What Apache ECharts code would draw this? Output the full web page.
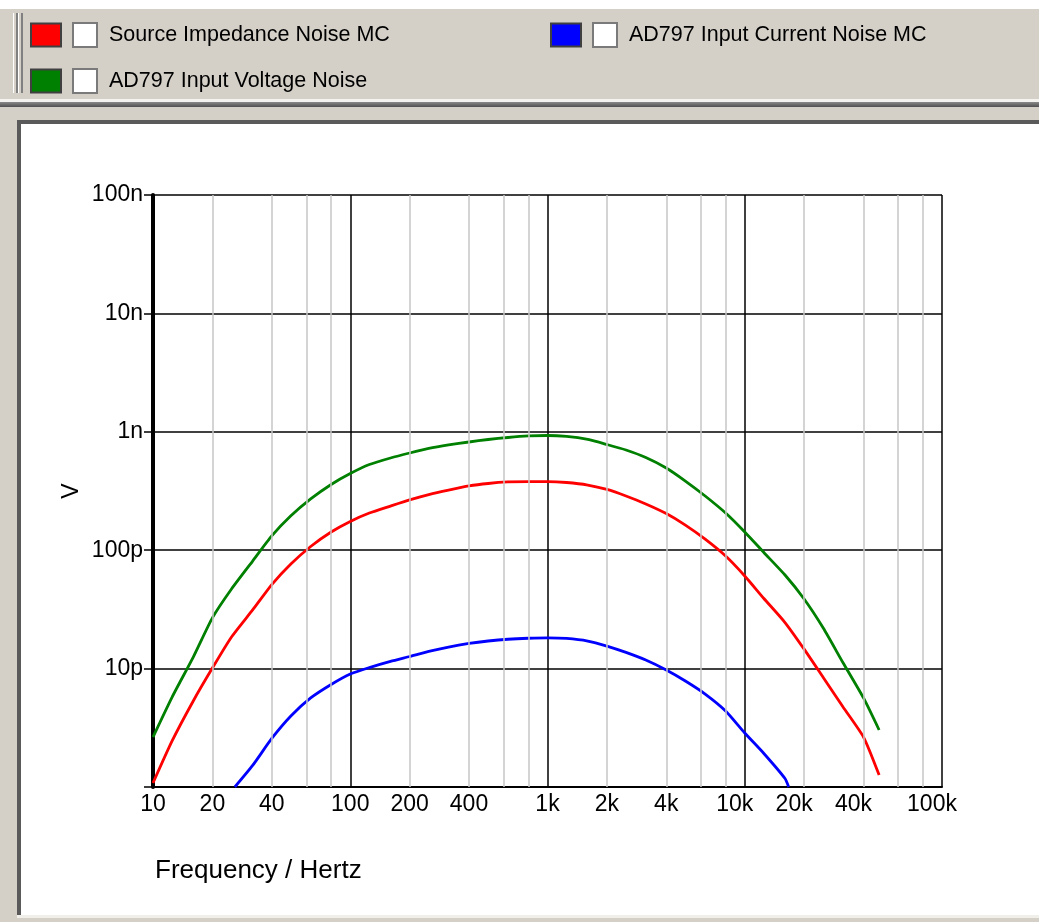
<!DOCTYPE html>
<html>
<head>
<meta charset="utf-8">
<title>AD797 noise contributions</title>
<script src="https://cdn.jsdelivr.net/npm/echarts@6.0.0/dist/echarts.min.js"></script>
<style>
  html, body { margin: 0; padding: 0; }
  body { width: 1039px; height: 922px; position: relative; overflow: hidden; background: #d4d0c8; font-family: "Liberation Sans", Arial, sans-serif; }
  .strip-top { position: absolute; left: 0; top: 0; width: 1039px; height: 9px; background: #ffffff; }
  .grip { position: absolute; top: 13px; height: 80px; width: 2px; border-left: 1px solid #ffffff; border-right: 2px solid #808080; }
  .sep-light { position: absolute; left: 0; top: 99px; width: 1039px; height: 3px; background: #f4f3ef; }
  .sep-dark { position: absolute; left: 0; top: 102px; width: 1039px; height: 5px; background: linear-gradient(#8a8a8a, #505050); }
  .panel { position: absolute; left: 17px; top: 120px; right: 0; height: 795px; background: #ffffff;
           border-left: 4px solid #5a5a5a; border-top: 4px solid #5a5a5a; box-sizing: border-box; }
  .panel-foot { position: absolute; left: 17px; top: 915px; right: 0; height: 3px; background: #f1efea; }
  #chart { position: absolute; left: 0; top: 0; width: 1039px; height: 922px; }
</style>
</head>
<body>
<div class="strip-top"></div>
<div class="grip" style="left:13px"></div>
<div class="grip" style="left:18px"></div>
<div class="sep-light"></div>
<div class="sep-dark"></div>
<div class="panel"></div>
<div class="panel-foot"></div>
<div id="chart"></div>
<script>
// Third-octave frequency points (Hz) for the source-impedance and voltage-noise traces
const freqHz = [10, 12.5, 16, 20, 25, 32, 40, 50, 63, 80,
  100, 125, 160, 200, 250, 315, 400, 500, 630, 800,
  1000, 1250, 1600, 2000, 2500, 3150, 4000, 5000, 6300, 8000,
  10000, 12500, 16000, 20000, 25000, 31500, 40000, 48000];

// Noise voltages in picovolts
const sourceImpedancePV = [1.08, 2.45, 5.33, 10.1, 18.5, 31.3, 51.3, 76.5, 107.5, 142.5,
  175, 206, 236, 266, 295, 322, 349, 366, 377, 380,
  380, 373, 355, 326, 287, 246, 204, 163, 124, 89.3,
  60.6, 39.1, 24.5, 14.6, 8.41, 4.74, 2.64, 1.26];
const inputVoltagePV = [2.64, 5.75, 12.5, 26.8, 47.0, 81.0, 132, 195, 271, 359,
  444, 529, 601, 662, 723, 774, 820, 861, 895, 922,
  931, 913, 861, 781, 702, 607, 495, 384, 287, 206,
  142.5, 95.6, 61.7, 38.7, 22.0, 11.2, 5.65, 3.03];

// The current-noise trace spans a narrower band
const currentNoiseHz = [26, 32, 40, 50, 63, 80, 100, 125, 160, 200, 250, 315, 400, 500, 630, 800,
  1000, 1250, 1600, 2000, 2500, 3150, 4000, 5000, 6300, 8000, 10000, 12500, 16000, 16700];
const inputCurrentPV = [1.0, 1.52, 2.57, 3.98, 5.65, 7.34, 9.0, 10.2, 11.5, 12.65, 13.95, 15.2, 16.3, 17.1, 17.7, 18.05,
  18.2, 18.0, 17.1, 15.5, 13.7, 11.8, 9.73, 7.86, 6.10, 4.39, 2.86, 1.92, 1.18, 1.0];

const seriesNames = ['Source Impedance Noise MC', 'AD797 Input Current Noise MC', 'AD797 Input Voltage Noise'];
const seriesColors = ['#ff0000', '#0000ff', '#008000'];

// Axis ticks
const xTickValues = [10, 20, 40, 100, 200, 400, 1000, 2000, 4000, 10000, 20000, 40000, 100000];
const xTickText = ['10', '20', '40', '100', '200', '400', '1k', '2k', '4k', '10k', '20k', '40k', '100k'];
const yTickExp = [-12, -11, -10, -9, -8, -7];
const yTickText = ['', '10p', '100p', '1n', '10n', '100n'];

// Light grid lines between the decades
const xMinorGrid = [20, 40, 60, 80, 200, 400, 600, 800, 2000, 4000, 6000, 8000, 20000, 40000, 60000, 80000];
const yMinorGrid = [5e-12, 5e-11, 5e-10, 5e-9, 5e-8];

const FONT = '"Liberation Sans", Arial, sans-serif';
const toPairs = (hz, pv) => hz.map((f, i) => [f, pv[i] * 1e-12]);

const chart = echarts.init(document.getElementById('chart'), null, { renderer: 'canvas' });

function legendAt(name, left, top) {
  return {
    data: [name],
    left: left,
    top: top,
    padding: 0,
    orient: 'horizontal',
    selectedMode: false,
    icon: 'rect',
    itemWidth: 30,
    itemHeight: 23,
    itemStyle: { borderColor: '#404040', borderWidth: 2 },
    formatter: n => '{sp| }{cb| }{t|' + n + '}',
    textStyle: {
      fontFamily: FONT,
      rich: {
        sp: { width: 8 },
        cb: { width: 22, height: 22, backgroundColor: '#ffffff', borderColor: '#7a7a7a', borderWidth: 2 },
        t: { fontSize: 21.5, color: '#000', fontFamily: FONT, padding: [0, 0, 0, 13] }
      }
    }
  };
}

function traceSeries(idx, data) {
  return {
    name: seriesNames[idx],
    type: 'line',
    z: 3,
    data: data,
    color: seriesColors[idx],
    symbol: 'none',
    smooth: 0.2,
    lineStyle: { width: 2.8, color: seriesColors[idx] }
  };
}

const option = {
  animation: false,
  textStyle: { fontFamily: FONT },
  legend: [
    legendAt(seriesNames[0], 30, 22),
    legendAt(seriesNames[1], 550, 22),
    legendAt(seriesNames[2], 30, 68)
  ],
  grid: { left: 153, top: 195, width: 789, height: 592, containLabel: false },
  xAxis: {
    type: 'log',
    logBase: 10,
    min: 10,
    max: 100000,
    name: 'Frequency / Hertz',
    nameLocation: 'start',
    nameGap: 0,
    nameMoveOverlap: false,
    nameTextStyle: { fontSize: 26, color: '#000', fontFamily: FONT, align: 'left', verticalAlign: 'top', padding: [71, 0, 0, 2] },
    axisLine: { show: true, onZero: false, lineStyle: { color: '#000', width: 2 } },
    axisTick: { show: false },
    axisLabel: {
      customValues: xTickValues,
      margin: 6,
      color: '#000',
      fontSize: 23,
      fontFamily: FONT,
      formatter: v => {
        let best = 0;
        xTickValues.forEach((t, i) => { if (Math.abs(Math.log10(t) - Math.log10(v)) < Math.abs(Math.log10(xTickValues[best]) - Math.log10(v))) best = i; });
        const s = xTickText[best];
        return v >= 9999 ? '{k|' + s + '}' : '{n|' + s + '}';
      },
      rich: {
        n: { fontSize: 23, color: '#000', fontFamily: FONT },
        k: { fontSize: 23, color: '#000', fontFamily: FONT, padding: [0, 20, 0, 0] }
      }
    },
    splitLine: { show: true, lineStyle: { color: '#000', width: 1.5 } }
  },
  yAxis: {
    type: 'log',
    logBase: 10,
    min: 1e-12,
    max: 1e-7,
    name: 'V',
    nameLocation: 'middle',
    nameGap: 70,
    nameMoveOverlap: false,
    nameTextStyle: { fontSize: 23, color: '#000', fontFamily: FONT },
    axisLine: { show: true, onZero: false, lineStyle: { color: '#000', width: 4 } },
    axisTick: { show: true, length: 9, lineStyle: { color: '#000', width: 1.5 } },
    axisLabel: {
      margin: 10,
      color: '#000',
      fontSize: 23,
      fontFamily: FONT,
      formatter: v => {
        const e = Math.round(Math.log10(v));
        const i = yTickExp.indexOf(e);
        return i >= 0 ? yTickText[i] : '';
      }
    },
    splitLine: { show: true, lineStyle: { color: '#000', width: 1.5 } }
  },
  series: [
    {
      name: 'minor-grid',
      type: 'line',
      z: 1,
      silent: true,
      data: [[10, 1e-12]],
      symbol: 'none',
      lineStyle: { opacity: 0 },
      markLine: {
        silent: true,
        symbol: ['none', 'none'],
        label: { show: false },
        animation: false,
        lineStyle: { color: '#c6c6c6', width: 1.5, type: 'solid' },
        data: xMinorGrid.map(x => ({ xAxis: x })).concat(yMinorGrid.map(y => ({ yAxis: y })))
      }
    },
    traceSeries(0, toPairs(freqHz, sourceImpedancePV)),
    traceSeries(1, toPairs(currentNoiseHz, inputCurrentPV)),
    traceSeries(2, toPairs(freqHz, inputVoltagePV))
  ]
};

chart.setOption(option);
</script>
</body>
</html>
